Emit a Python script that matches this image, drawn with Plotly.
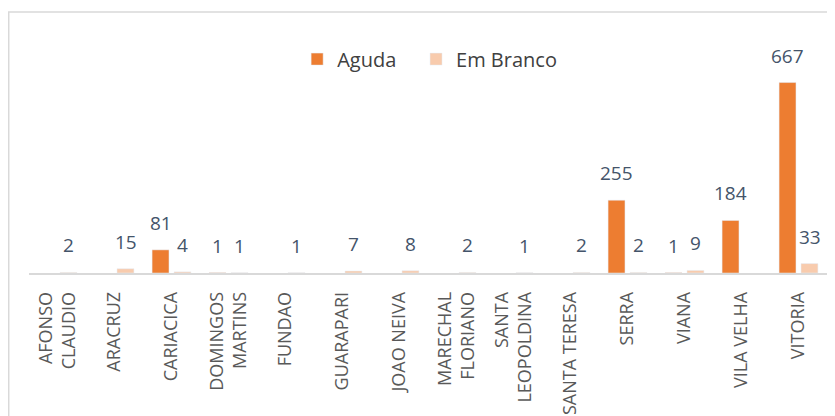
import plotly.graph_objects as go

# municipalities (x axis categories)
municipios = [
    "AFONSO<br>CLAUDIO", "ARACRUZ", "CARIACICA", "DOMINGOS<br>MARTINS", "FUNDAO",
    "GUARAPARI", "JOAO NEIVA", "MARECHAL<br>FLORIANO", "SANTA<br>LEOPOLDINA",
    "SANTA TERESA", "SERRA", "VIANA", "VILA VELHA", "VITORIA",
]
aguda = [None, None, 81, 1, None, None, None, None, None, None, 255, 1, 184, 667]
em_branco = [2, 15, 4, 1, 1, 7, 8, 2, 1, 2, 2, 9, None, 33]

C_AGUDA = "#ED7D31"
C_BRANCO = "#F8CBAD"
C_LABEL = "#44546A"
FONT = "Open Sans"

fig = go.Figure()
fig.add_trace(go.Bar(x=municipios, y=aguda, name="Aguda", marker_color=C_AGUDA,
                     legend="legend"))
fig.add_trace(go.Bar(x=municipios, y=em_branco, name="Em Branco", marker_color=C_BRANCO,
                     legend="legend2"))

# data labels, placed above each bar
for vals, shift in ((aguda, -11), (em_branco, 11)):
    for cat, v in zip(municipios, vals):
        if v is None:
            continue
        fig.add_annotation(
            x=cat, y=v, text=str(v), showarrow=False, xshift=shift, yshift=12,
            yanchor="bottom", font=dict(family=FONT, size=19, color=C_LABEL),
        )

# chart frame (only left/top edges fall inside the picture)
fig.add_shape(type="rect", xref="paper", yref="paper", x0=-0.0254, x1=1.2, y0=-1, y1=1.14,
              line=dict(color="#D9D9D9", width=1.5), layer="below")

leg = dict(orientation="h", y=0.934, xanchor="left", yanchor="middle",
           font=dict(family=FONT, size=20, color="#404040"), bgcolor="rgba(0,0,0,0)")

# the page body adds an 8px margin, so the figure is 8px smaller each way
fig.update_layout(
    width=827, height=408,
    margin=dict(l=21, r=8, t=36, b=143, autoexpand=False),
    paper_bgcolor="white", plot_bgcolor="white",
    barmode="group", bargap=0.23, bargroupgap=0.23,
    showlegend=True,
    legend=dict(leg, x=0.336),
    legend2=dict(leg, x=0.485),
    font=dict(family=FONT),
)
fig.update_xaxes(
    tickangle=-90, tickfont=dict(family=FONT, size=18, color="#595959"),
    showline=True, linecolor="#D9D9D9", linewidth=1.5, showgrid=False,
    ticks="", ticklabelstandoff=10, automargin=False,
)
fig.update_yaxes(range=[0, 802], visible=False)

fig.write_html("out.html")
